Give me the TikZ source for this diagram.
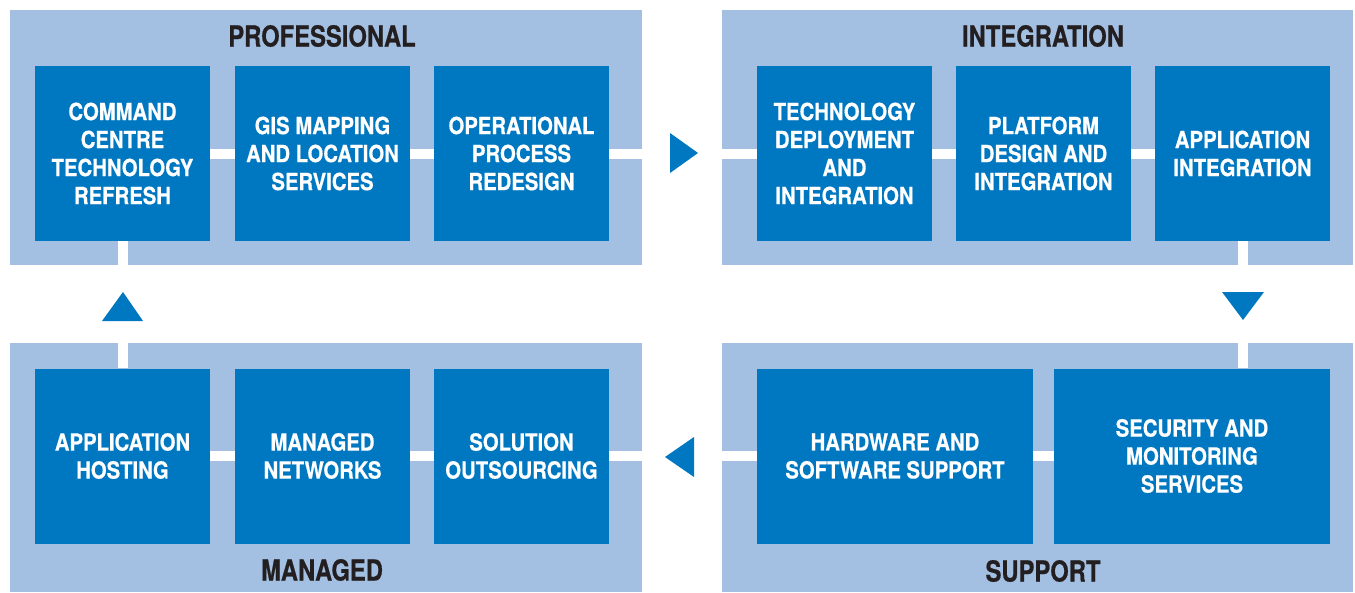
\documentclass[tikz,border=0pt]{standalone}
\usepackage{fontspec}
\newfontfamily\diagfont{TeX Gyre Heros}[FakeStretch=0.86, FakeBold=0.6]
\newfontfamily\titlefont{TeX Gyre Heros}[FakeStretch=0.82, FakeBold=0.6]
\definecolor{panelblue}{HTML}{A3C0E3}
\definecolor{boxblue}{HTML}{0077C1}
\definecolor{titleblack}{HTML}{231F20}
\begin{document}
\begin{tikzpicture}[x=1pt, y=-1pt,
	panel/.style={fill=panelblue, inner sep=0pt},
	svcbox/.style={fill=boxblue, text=white, inner sep=0pt, minimum width=175pt, minimum height=175pt, align=center, font=\diagfont\bfseries\fontsize{23.6}{28}\selectfont},
	widebox/.style={svcbox, minimum width=276pt},
	paneltitle/.style={text=titleblack, inner sep=0pt, font=\titlefont\bfseries\fontsize{29}{32}\selectfont},
	link/.style={white, line width=10pt},
	turn/.style={fill=boxblue}]
	\useasboundingbox (0, 0) rectangle (1355, 592);

	% the four panels
	\node[panel, minimum width=632pt, minimum height=255pt] (prof) at (326, 137.5) {};
	\node[panel, minimum width=631pt, minimum height=255pt] (integ) at (1037.5, 137.5) {};
	\node[panel, minimum width=632pt, minimum height=249pt] (manag) at (326, 467.5) {};
	\node[panel, minimum width=631pt, minimum height=249pt] (supp) at (1037.5, 467.5) {};

	\node[paneltitle] (prof-title) at (322, 36) {PROFESSIONAL};
	\node[paneltitle] (integ-title) at (1043, 36) {INTEGRATION};
	\node[paneltitle] (manag-title) at (322, 570) {MANAGED};
	\node[paneltitle] (supp-title) at (1043, 571) {SUPPORT};

	% professional
	\node[svcbox] (command) at (122.5, 153.5) {COMMAND\\CENTRE\\TECHNOLOGY\\REFRESH};
	\node[svcbox] (gis) at (322.5, 153.5) {GIS MAPPING\\AND LOCATION\\SERVICES};
	\node[svcbox] (operational) at (521.5, 153.5) {OPERATIONAL\\PROCESS\\REDESIGN};

	% integration
	\node[svcbox] (deployment) at (844.5, 153.5) {TECHNOLOGY\\DEPLOYMENT\\AND\\INTEGRATION};
	\node[svcbox] (platform) at (1043.5, 153.5) {PLATFORM\\DESIGN AND\\INTEGRATION};
	\node[svcbox] (application) at (1242.5, 153.5) {APPLICATION\\INTEGRATION};

	% support
	\node[widebox] (hardware) at (895, 456) {HARDWARE AND\\SOFTWARE SUPPORT};
	\node[widebox] (security) at (1192, 456) {SECURITY AND\\MONITORING\\SERVICES};

	% managed
	\node[svcbox] (hosting) at (122.5, 456) {APPLICATION\\HOSTING};
	\node[svcbox] (networks) at (322.5, 456) {MANAGED\\NETWORKS};
	\node[svcbox] (outsourcing) at (521.5, 456) {SOLUTION\\OUTSOURCING};

	% links
	\draw[link] (command) -- (gis);
	\draw[link] (gis) -- (operational);
	\draw[link] (operational.east) -- (operational.east -| prof.east);
	\draw[link] (deployment.west -| integ.west) -- (deployment.west);
	\draw[link] (deployment) -- (platform);
	\draw[link] (platform) -- (application);
	\draw[link] (application.south) -- (application.south |- integ.south);
	\draw[link] (application.south |- supp.north) -- (application.south |- security.north);
	\draw[link] (hardware) -- (security);
	\draw[link] (hardware.west -| supp.west) -- (hardware.west);
	\draw[link] (hosting) -- (networks);
	\draw[link] (networks) -- (outsourcing);
	\draw[link] (outsourcing.east) -- (outsourcing.east -| manag.east);
	\draw[link] (hosting.north |- manag.north) -- (hosting.north);
	\draw[link] (command.south) -- (command.south |- prof.south);

	% turning arrows
	\fill[turn] (670, 133) -- (698, 153) -- (670, 173) -- cycle;
	\fill[turn] (1222, 292) -- (1264, 292) -- (1243, 320) -- cycle;
	\fill[turn] (694, 437) -- (665, 457) -- (694, 477) -- cycle;
	\fill[turn] (102, 321) -- (123, 292) -- (143, 321) -- cycle;
\end{tikzpicture}
\end{document}
